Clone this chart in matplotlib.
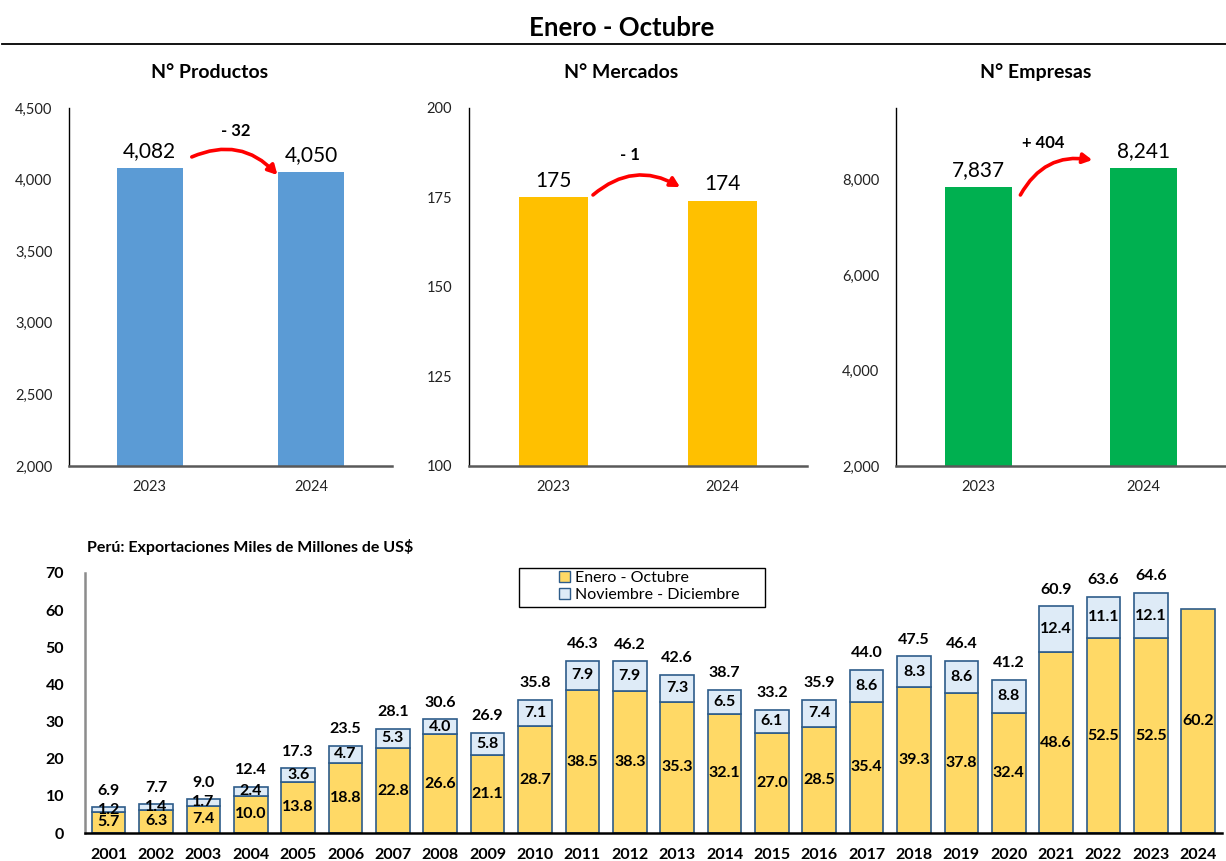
import matplotlib
matplotlib.use("Agg")
import matplotlib.pyplot as plt
from matplotlib.patches import Patch, Rectangle

plt.rcParams['font.family'] = ['Lato', 'DejaVu Sans']

# top panels
periods = ['2023', '2024']
productos = [4082, 4050]
mercados = [175, 174]
empresas = [7837, 8241]

# bottom chart
years = [str(y) for y in range(2001, 2025)]
ene_oct = [5.7, 6.3, 7.4, 10.0, 13.8, 18.8, 22.8, 26.6, 21.1, 28.7, 38.5, 38.3,
           35.3, 32.1, 27.0, 28.5, 35.4, 39.3, 37.8, 32.4, 48.6, 52.5, 52.5, 60.2]
nov_dic = [1.2, 1.4, 1.7, 2.4, 3.6, 4.7, 5.3, 4.0, 5.8, 7.1, 7.9, 7.9,
           7.3, 6.5, 6.1, 7.4, 8.6, 8.3, 8.6, 8.8, 12.4, 11.1, 12.1]
totales = [6.9, 7.7, 9.0, 12.4, 17.3, 23.5, 28.1, 30.6, 26.9, 35.8, 46.3, 46.2,
           42.6, 38.7, 33.2, 35.9, 44.0, 47.5, 46.4, 41.2, 60.9, 63.6, 64.6]

fig = plt.figure(figsize=(12.26, 8.61), dpi=100)

fig.text(0.507, 0.967, 'Enero - Octubre', ha='center', va='center',
         fontsize=18.5, fontweight='bold')
fig.add_artist(plt.Line2D([0.002, 1.0], [0.949, 0.949], color='black', lw=1.3))


def panel(rect, vals, color, ylim, yticks, title, title_x, diff, arr, diff_pos):
    ax = fig.add_axes(rect)
    x = range(len(vals))
    ax.bar(x, vals, width=0.41, color=color)
    ax.set_xlim(-0.5, 1.5)
    ax.set_ylim(*ylim)
    ax.set_yticks(yticks)
    ax.set_yticklabels([f'{t:,}' for t in yticks])
    ax.set_xticks(list(x))
    ax.set_xticklabels(periods)
    ax.tick_params(length=0, labelsize=10.5, colors='#222222')
    ax.tick_params(axis='y', pad=12)
    ax.tick_params(axis='x', pad=10)
    for s in ['top', 'right']:
        ax.spines[s].set_visible(False)
    ax.spines['left'].set_linewidth(1.0)
    ax.spines['bottom'].set_color('#595959')
    ax.spines['bottom'].set_linewidth(1.8)
    for i, v in enumerate(vals):
        ax.annotate(f'{v:,}', (i, v), xytext=(0, 5), textcoords='offset points',
                    ha='center', va='bottom', fontsize=15)
    ax.annotate('', xy=arr[1], xytext=arr[0],
                arrowprops=dict(arrowstyle='-|>,head_length=0.55,head_width=0.3',
                                color='red', lw=2.6, shrinkA=0, shrinkB=0,
                                connectionstyle='arc3,rad=-0.35'))
    ax.text(diff_pos[0], diff_pos[1], diff, ha='center', va='center',
            fontsize=12, fontweight='bold')
    fig.text(title_x, 0.916, title, ha='center', va='center',
             fontsize=14, fontweight='bold')
    return ax


panel([0.0563, 0.4588, 0.2635, 0.4158], productos, '#5B9BD5', (2000, 4500),
      [2000, 2500, 3000, 3500, 4000, 4500], 'N° Productos', 0.171, '- 32',
      ((0.26, 4158), (0.79, 4032)), (0.534, 4339))
panel([0.3825, 0.4588, 0.2757, 0.4158], mercados, '#FFC000', (100, 200),
      [100, 125, 150, 175, 200], 'N° Mercados', 0.507, '- 1',
      ((0.234, 175.7), (0.749, 177.9)), (0.45, 186.9))
panel([0.7308, 0.4588, 0.2692, 0.4158], empresas, '#00B050', (2000, 9500),
      [2000, 4000, 6000, 8000], 'N° Empresas', 0.845, '+ 404',
      ((0.254, 7677), (0.69, 8410)), (0.39, 8767))

# bottom stacked chart
ax = fig.add_axes([0.0693, 0.0325, 0.9274, 0.302])
xb = list(range(len(years)))
edge = '#2E5C8A'
ax.bar(xb, ene_oct, width=0.71, color='#FFD966', edgecolor=edge, lw=1.2,
       label='Enero - Octubre')
ax.bar(xb[:len(nov_dic)], nov_dic, bottom=ene_oct[:len(nov_dic)], width=0.71,
       color='#DEEBF7', edgecolor=edge, lw=1.2, label='Noviembre - Diciembre')
for i, v in enumerate(ene_oct):
    ax.text(i, v / 2, f'{v:.1f}', ha='center', va='center', fontsize=11.5,
            fontweight='bold')
for i, v in enumerate(nov_dic):
    ax.text(i, ene_oct[i] + v / 2, f'{v:.1f}', ha='center', va='center',
            fontsize=11.5, fontweight='bold')
for i, v in enumerate(totales):
    ax.annotate(f'{v:.1f}', (i, v), xytext=(0, 7), textcoords='offset points',
                ha='center', va='bottom', fontsize=11.5, fontweight='bold')
ax.set_xlim(-0.5, len(years) - 0.5)
ax.set_ylim(0, 70)
ax.set_yticks(range(0, 71, 10))
ax.set_xticks(xb)
ax.set_xticklabels(years, fontweight='bold')
for lab in ax.get_yticklabels():
    lab.set_fontweight('bold')
ax.tick_params(length=0, labelsize=11.5)
ax.tick_params(axis='y', pad=15)
ax.tick_params(axis='x', pad=11)
for s in ['top', 'right']:
    ax.spines[s].set_visible(False)
ax.spines['left'].set_color('#8C8C8C')
ax.spines['left'].set_linewidth(1.8)
ax.spines['bottom'].set_linewidth(1.8)
fig.text(0.071, 0.365, 'Perú: Exportaciones Miles de Millones de US$',
         ha='left', va='center', fontsize=11.5, fontweight='bold')

# legend box (wide frame like the original) with the entries inside
fig.add_artist(Rectangle((0.4233, 0.295), 0.2007, 0.0453, transform=fig.transFigure,
                         facecolor='white', edgecolor='black', lw=1.0, zorder=5))
handles = [Patch(facecolor='#FFD966', edgecolor=edge, label='Enero - Octubre'),
           Patch(facecolor='#DEEBF7', edgecolor=edge, label='Noviembre - Diciembre')]
leg = fig.legend(handles=handles, loc='upper left', bbox_to_anchor=(0.4543, 0.3395),
                 fontsize=11.5, frameon=False, handlelength=0.65,
                 handleheight=0.65, handletextpad=0.3, borderpad=0.15,
                 labelspacing=0.2, borderaxespad=0)
leg.set_zorder(6)

fig.savefig('out.png', dpi=100)
